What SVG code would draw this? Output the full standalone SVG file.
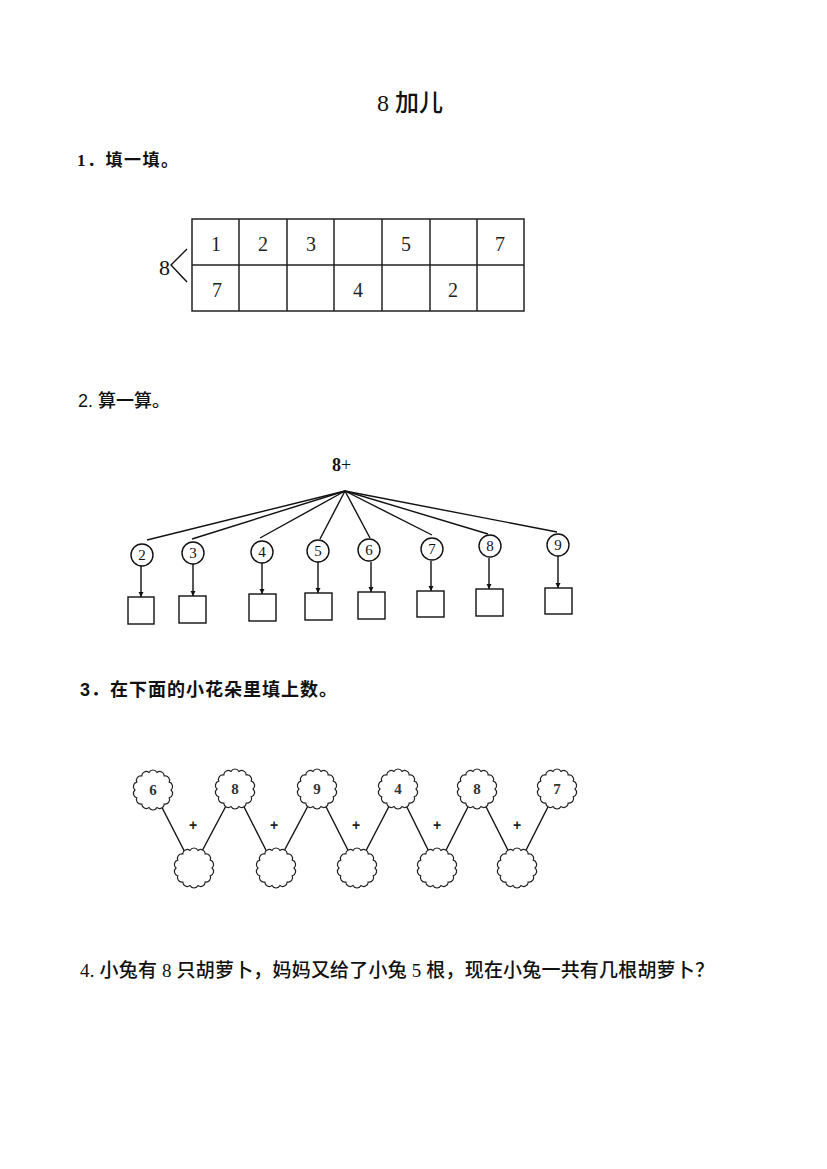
<svg xmlns="http://www.w3.org/2000/svg" xmlns:xlink="http://www.w3.org/1999/xlink" width="827" height="1169" viewBox="0 0 827 1169">
<style>
.bg{fill:#fff}
.ln{stroke:#111;stroke-width:1.4;fill:none}
.cell{stroke:#222;stroke-width:1.5;fill:none}
.serif{font-family:"Liberation Serif","Noto Sans CJK SC",serif;fill:#111}
.sans{font-family:"Liberation Sans","Noto Sans CJK SC",sans-serif;fill:#111}
.num{font-family:"Liberation Serif",serif;font-size:20px;fill:#222;text-anchor:middle}
.cnum{font-family:"Liberation Serif",serif;font-size:15px;fill:#111;text-anchor:middle}
.fnum{font-family:"Liberation Serif",serif;font-size:15px;font-weight:bold;fill:#333;text-anchor:middle}
.plus{font-family:"Liberation Sans",sans-serif;font-size:14px;font-weight:bold;fill:#222;text-anchor:middle}
.circ{fill:#fff;stroke:#111;stroke-width:1.4}
.box{fill:#fff;stroke:#111;stroke-width:1.4}
.flower{fill:#fff;stroke:#222;stroke-width:1.2}
</style>
<defs>
<marker id="arr" viewBox="0 0 10 10" refX="10" refY="5" markerWidth="5" markerHeight="6" orient="auto" markerUnits="userSpaceOnUse">
<path d="M0,0 L10,5 L0,10 Z" fill="#111"/>
</marker>
<path id="fl" d="M18,0 A4.5,4.5 0 0 1 16.22,7.81 A4.5,4.5 0 0 1 11.22,14.07 A4.5,4.5 0 0 1 4,17.55 A4.5,4.5 0 0 1 -4,17.55 A4.5,4.5 0 0 1 -11.22,14.07 A4.5,4.5 0 0 1 -16.22,7.81 A4.5,4.5 0 0 1 -18,0 A4.5,4.5 0 0 1 -16.22,-7.81 A4.5,4.5 0 0 1 -11.22,-14.07 A4.5,4.5 0 0 1 -4,-17.55 A4.5,4.5 0 0 1 4,-17.55 A4.5,4.5 0 0 1 11.22,-14.07 A4.5,4.5 0 0 1 16.22,-7.81 A4.5,4.5 0 0 1 18,0 Z"/>
</defs>
<rect class="bg" x="0" y="0" width="827" height="1169"/>

<g id="title">
<text class="serif" x="377" y="111" font-size="24" font-weight="500">8 加儿</text>
</g>

<g id="q1">
<text class="serif" x="77" y="166" font-size="17" font-weight="bold" textLength="101" lengthAdjust="spacing">1．填一填。</text>
<text class="serif" x="159" y="275" font-size="22">8</text>
<path class="ln" d="M187,249 L171,265 L187,282"/>
<g id="table">
<rect class="cell" x="192" y="219" width="332" height="92"/>
<line class="cell" x1="192" y1="265" x2="524" y2="265"/>
<line class="cell" x1="239" y1="219" x2="239" y2="311"/>
<line class="cell" x1="287" y1="219" x2="287" y2="311"/>
<line class="cell" x1="334" y1="219" x2="334" y2="311"/>
<line class="cell" x1="382" y1="219" x2="382" y2="311"/>
<line class="cell" x1="430" y1="219" x2="430" y2="311"/>
<line class="cell" x1="477" y1="219" x2="477" y2="311"/>
<text class="num" x="216" y="251">1</text>
<text class="num" x="263" y="251">2</text>
<text class="num" x="311" y="251">3</text>
<text class="num" x="406" y="251">5</text>
<text class="num" x="500" y="251">7</text>
<text class="num" x="217" y="297">7</text>
<text class="num" x="358" y="297">4</text>
<text class="num" x="453" y="297">2</text>
</g>
</g>

<g id="q2">
<text class="sans" x="78" y="407" font-size="18" font-weight="500" textLength="92" lengthAdjust="spacing">2. 算一算。</text>
<text class="serif" x="332" y="471" font-size="18"><tspan font-weight="bold">8</tspan><tspan>+</tspan></text>
<g id="tree-connectors">
<line class="ln" x1="345" y1="491" x2="147" y2="540"/>
<line class="ln" x1="345" y1="491" x2="192" y2="539"/>
<line class="ln" x1="345" y1="491" x2="260" y2="538"/>
<line class="ln" x1="345" y1="491" x2="320" y2="539"/>
<line class="ln" x1="345" y1="491" x2="370" y2="538"/>
<line class="ln" x1="345" y1="491" x2="432" y2="535"/>
<line class="ln" x1="345" y1="491" x2="488" y2="534"/>
<line class="ln" x1="345" y1="491" x2="557" y2="532"/>
<line class="ln" x1="141" y1="566" x2="141" y2="597" marker-end="url(#arr)"/>
<line class="ln" x1="193" y1="564" x2="193" y2="596" marker-end="url(#arr)"/>
<line class="ln" x1="262" y1="563" x2="262" y2="594" marker-end="url(#arr)"/>
<line class="ln" x1="318" y1="562" x2="318" y2="593" marker-end="url(#arr)"/>
<line class="ln" x1="371" y1="562" x2="371" y2="592" marker-end="url(#arr)"/>
<line class="ln" x1="431" y1="561" x2="431" y2="591" marker-end="url(#arr)"/>
<line class="ln" x1="489" y1="558" x2="489" y2="589" marker-end="url(#arr)"/>
<line class="ln" x1="558" y1="556" x2="558" y2="588" marker-end="url(#arr)"/>
</g>
<g id="n2"><circle class="circ" cx="142" cy="555" r="11"/><text class="cnum" x="142" y="560">2</text><rect class="box" x="128" y="597" width="26" height="27"/></g>
<g id="n3"><circle class="circ" cx="193" cy="553" r="11"/><text class="cnum" x="193" y="558">3</text><rect class="box" x="179" y="596" width="27" height="27"/></g>
<g id="n4"><circle class="circ" cx="262" cy="552" r="11"/><text class="cnum" x="262" y="557">4</text><rect class="box" x="249" y="594" width="27" height="27"/></g>
<g id="n5"><circle class="circ" cx="318" cy="551" r="11"/><text class="cnum" x="318" y="556">5</text><rect class="box" x="305" y="593" width="27" height="27"/></g>
<g id="n6"><circle class="circ" cx="369" cy="550" r="11"/><text class="cnum" x="369" y="555">6</text><rect class="box" x="358" y="592" width="27" height="27"/></g>
<g id="n7"><circle class="circ" cx="432" cy="549" r="11"/><text class="cnum" x="432" y="554">7</text><rect class="box" x="417" y="591" width="27" height="26"/></g>
<g id="n8"><circle class="circ" cx="490" cy="546" r="11"/><text class="cnum" x="490" y="551">8</text><rect class="box" x="476" y="589" width="27" height="27"/></g>
<g id="n9"><circle class="circ" cx="558" cy="545" r="11"/><text class="cnum" x="558" y="550">9</text><rect class="box" x="545" y="588" width="27" height="26"/></g>
</g>

<g id="q3">
<text class="sans" x="80" y="696" font-size="18" font-weight="bold" textLength="257" lengthAdjust="spacing">3．在下面的小花朵里填上数。</text>
<g id="flower-connectors">
<line class="ln" x1="153" y1="790" x2="193" y2="868"/>
<line class="ln" x1="193" y1="868" x2="235" y2="789"/>
<line class="ln" x1="235" y1="789" x2="275" y2="868"/>
<line class="ln" x1="275" y1="868" x2="317" y2="789"/>
<line class="ln" x1="317" y1="789" x2="357" y2="868"/>
<line class="ln" x1="357" y1="868" x2="398" y2="789"/>
<line class="ln" x1="398" y1="789" x2="437" y2="868"/>
<line class="ln" x1="437" y1="868" x2="477" y2="789"/>
<line class="ln" x1="477" y1="789" x2="517" y2="868"/>
<line class="ln" x1="517" y1="868" x2="557" y2="789"/>
</g>
<g id="f1"><use xlink:href="#fl" class="flower" x="153" y="790"/><text class="fnum" x="153" y="795">6</text></g>
<g id="f2"><use xlink:href="#fl" class="flower" x="235" y="789"/><text class="fnum" x="235" y="794">8</text></g>
<g id="f3"><use xlink:href="#fl" class="flower" x="317" y="789"/><text class="fnum" x="317" y="794">9</text></g>
<g id="f4"><use xlink:href="#fl" class="flower" x="398" y="789"/><text class="fnum" x="398" y="794">4</text></g>
<g id="f5"><use xlink:href="#fl" class="flower" x="477" y="789"/><text class="fnum" x="477" y="794">8</text></g>
<g id="f6"><use xlink:href="#fl" class="flower" x="557" y="789"/><text class="fnum" x="557" y="794">7</text></g>
<g id="b1"><use xlink:href="#fl" class="flower" x="194" y="868"/></g>
<g id="b2"><use xlink:href="#fl" class="flower" x="276" y="868"/></g>
<g id="b3"><use xlink:href="#fl" class="flower" x="357" y="868"/></g>
<g id="b4"><use xlink:href="#fl" class="flower" x="437" y="868"/></g>
<g id="b5"><use xlink:href="#fl" class="flower" x="517" y="868"/></g>
<text class="plus" x="193" y="830">+</text>
<text class="plus" x="274" y="830">+</text>
<text class="plus" x="356" y="830">+</text>
<text class="plus" x="437" y="830">+</text>
<text class="plus" x="517" y="830">+</text>
</g>

<g id="q4">
<text class="serif" x="80" y="977" font-size="19" font-weight="500" textLength="634" lengthAdjust="spacing">4. 小兔有 8 只胡萝卜，妈妈又给了小兔 5 根，现在小兔一共有几根胡萝卜？</text>
</g>
</svg>
